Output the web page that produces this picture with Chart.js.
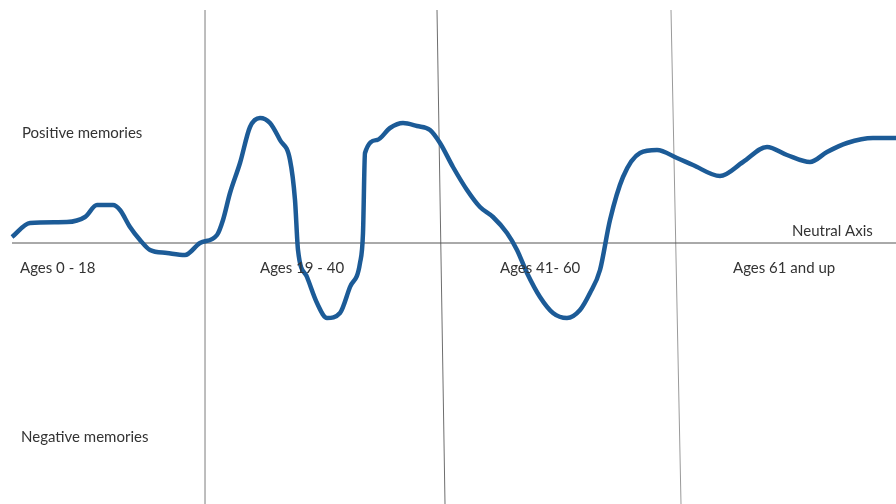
<!DOCTYPE html>
<html>
<head>
<meta charset="utf-8">
<script src="https://cdn.jsdelivr.net/npm/chart.js@4"></script>
<style>
  body { margin: 0; background: #fff; }
  canvas { display: block; }
</style>
</head>
<body>
<canvas id="memChart" width="896" height="504"></canvas>
<script>
// life position (abstract units) and memory tone (+ positive, - negative)
const lifePos = [1.2, 3.0, 6.7, 8.5, 9.7, 11.3, 12.0, 13.0, 14.0, 15.0, 16.7, 18.5, 20.0, 21.7, 22.3, 23.0, 24.0, 25.0, 26.0, 27.0,
  28.0, 29.0, 29.5, 29.8, 30.7, 31.7, 32.7, 34.0, 35.0, 36.0, 36.3, 36.5, 37.7, 39.0, 40.3, 41.7, 43.0, 44.0, 45.3, 46.7,
  48.0, 49.3, 50.7, 51.7, 52.7, 54.0, 55.3, 56.7, 58.0, 59.0, 60.0, 61.0, 62.3, 64.0, 65.7, 67.7, 69.3, 72.0, 74.3, 76.7,
  78.7, 81.0, 82.7, 84.7, 87.3, 89.6];
const memoryTone = [0.6, 2.0, 2.1, 2.6, 3.8, 3.8, 3.3, 1.6, 0.3, -0.7, -1.0, -1.2, 0.0, 0.8, 2.3, 5.0, 8.0, 11.6, 12.5, 12.0,
  10.3, 8.3, 4.3, -0.7, -3.4, -6.0, -7.5, -7.0, -4.4, -2.0, 1.0, 9.0, 10.3, 11.5, 12.0, 11.7, 11.3, 10.0, 7.6, 5.3,
  3.6, 2.6, 1.0, -0.7, -3.0, -5.4, -7.0, -7.5, -6.7, -5.0, -2.7, 2.3, 6.6, 9.0, 9.3, 8.5, 7.8, 6.7, 8.1, 9.6,
  8.8, 8.1, 9.1, 10.0, 10.5, 10.5];

const stageLabels = ['Ages 0 - 18', 'Ages 19 - 40', 'Ages 41- 60', 'Ages 61 and up'];
const stageLabelPos = [2.0, 26.0, 50.0, 73.3];
// divider lines between stages (top x, bottom x)
const dividerTop = [20.5, 43.7, 67.1];
const dividerBottom = [20.5, 44.5, 68.1];
const yTop = 23.3, yMin = -26.1, yMax = 24.3;
const axisStart = 1.2, axisEnd = 89.6;

const dividerColors = ['#b4b4b4', '#6e6e6e', '#9a9a9a'];

const datasets = [{
  data: lifePos.map((x, i) => ({ x: x, y: memoryTone[i] })),
  borderColor: '#1c5b97',
  borderWidth: 4.5,
  pointRadius: 0,
  cubicInterpolationMode: 'monotone',
  order: 0
}, {
  data: [{ x: axisStart, y: 0 }, { x: axisEnd, y: 0 }],
  borderColor: '#555',
  borderWidth: 1,
  pointRadius: 0,
  order: 1
}];
dividerTop.forEach((x, i) => {
  datasets.push({
    data: [{ x: x, y: yTop }, { x: dividerBottom[i], y: yMin }],
    borderColor: dividerColors[i],
    borderWidth: 1,
    pointRadius: 0,
    order: 2
  });
});

const textPlugin = {
  id: 'texts',
  afterDatasetsDraw(chart) {
    const c = chart.ctx, xs = chart.scales.x, ys = chart.scales.y;
    c.save();
    c.font = '15px Lato, "Liberation Sans", sans-serif';
    c.fillStyle = '#333';
    c.textBaseline = 'middle';
    c.textAlign = 'left';
    stageLabels.forEach((t, i) => c.fillText(t, xs.getPixelForValue(stageLabelPos[i]), ys.getPixelForValue(-2.5)));
    c.fillText('Positive memories', xs.getPixelForValue(2.2), ys.getPixelForValue(11.0));
    c.fillText('Negative memories', xs.getPixelForValue(2.1), ys.getPixelForValue(-19.4));
    c.fillText('Neutral Axis', xs.getPixelForValue(79.2), ys.getPixelForValue(1.2));
    c.restore();
  }
};

new Chart(document.getElementById('memChart').getContext('2d'), {
  type: 'line',
  data: { datasets: datasets },
  options: {
    responsive: false,
    animation: false,
    layout: { padding: 0 },
    plugins: { legend: { display: false }, tooltip: { enabled: false } },
    scales: {
      x: { type: 'linear', min: 0, max: 89.6, display: false },
      y: { min: yMin, max: yMax, display: false }
    }
  },
  plugins: [textPlugin]
});
</script>
</body>
</html>
